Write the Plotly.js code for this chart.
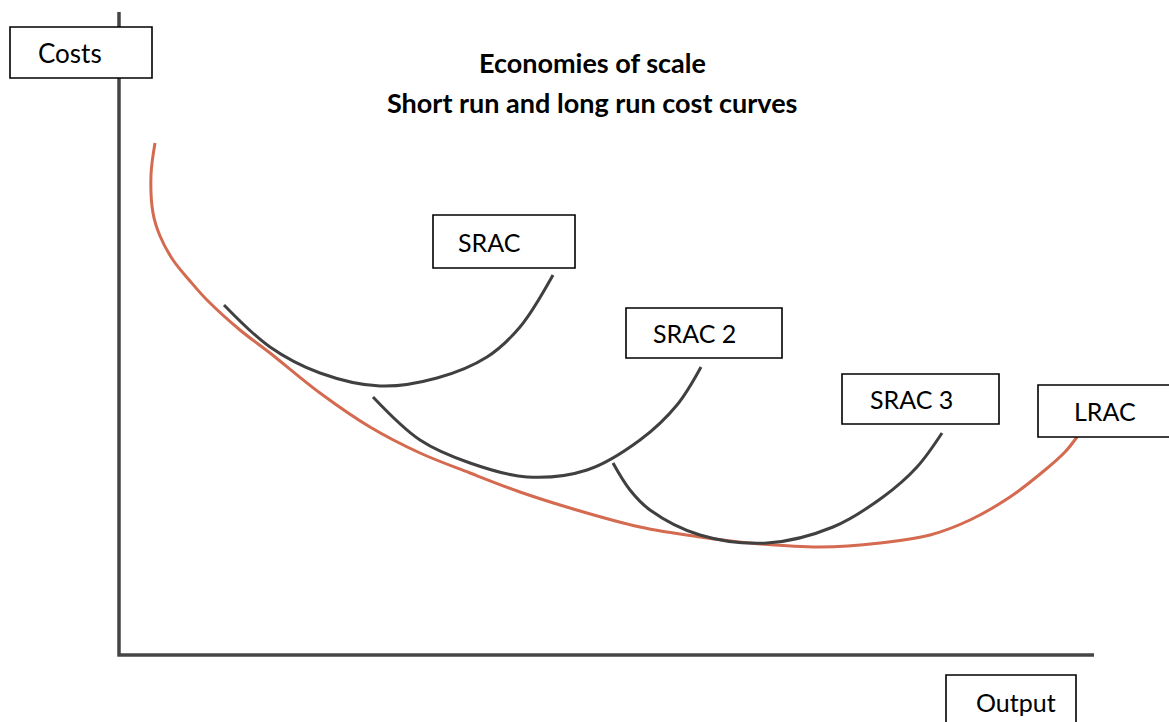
<!DOCTYPE html>
<html>
<head>
<meta charset="utf-8">
<script src="https://cdn.plot.ly/plotly-3.0.1.min.js"></script>
<style>html,body{margin:0;padding:0;background:#fff;}#chart{width:1169px;height:722px;}</style>
</head>
<body>
<div id="chart"></div>
<script>
// Curves (output on x, cost on y, in picture units; y grows downwards)
const lracX = [155, 151, 153, 160, 173, 190, 207, 240, 270, 320, 370, 420, 470, 520, 570, 640, 700, 750, 820, 880, 930, 970, 1010, 1045, 1065, 1077];
const lracY = [143, 175, 213, 236, 260, 281, 300, 330, 353, 393, 427, 453, 473, 492, 508, 527, 537, 543, 547, 543, 535, 520, 497, 470, 452, 437];

const srac1X = [224, 270, 320, 380, 437, 487, 520, 553];
const srac1Y = [305, 347, 373, 386, 378, 357, 327, 275];

const srac2X = [373, 420, 470, 527, 587, 640, 677, 701];
const srac2Y = [397, 440, 463, 477, 470, 440, 405, 367];

const srac3X = [613, 630, 650, 700, 767, 833, 883, 917, 942];
const srac3Y = [463, 490, 510, 535, 543, 527, 497, 467, 433];

const axisX = [119, 119, 1094];
const axisY = [12, 655, 655];

const titleLines = ["Economies of scale", "Short run and long run cost curves"];
const labels = ["Costs", "SRAC", "SRAC 2", "SRAC 3", "LRAC", "Output"];

const FONT = "Lato, 'Open Sans', sans-serif";

function curve(x, y, color, name) {
  return {x: x, y: y, mode: "lines", name: name,
    line: {color: color, width: 3, shape: "spline", smoothing: 1, simplify: false}};
}

const traces = [
  {x: axisX, y: axisY, mode: "lines", line: {color: "#454545", width: 3.5}, hoverinfo: "skip"},
  curve(lracX, lracY, "#D46A4F", "LRAC"),
  curve(srac1X, srac1Y, "#404040", "SRAC"),
  curve(srac2X, srac2Y, "#404040", "SRAC 2"),
  curve(srac3X, srac3Y, "#404040", "SRAC 3")
];

// label boxes: [x0, y0, x1, y1, textX]
const boxes = [
  [10, 27, 152, 78, 36],
  [433, 215, 575, 268, 456],
  [626, 308, 782, 358, 651],
  [842, 374, 999, 424, 868],
  [1038, 385, 1172, 437, 1072],
  [946, 675, 1076, 726, 974]
];

const shapes = boxes.map(b => ({
  type: "rect", xref: "x", yref: "y", x0: b[0], y0: b[1], x1: b[2], y1: b[3],
  line: {color: "#000", width: 1.6}, fillcolor: "#fff", layer: "above"
}));

const annotations = boxes.map((b, i) => ({
  x: b[4], y: (b[1] + Math.min(b[3], 722)) / 2 + (i === 5 ? 3 : 0), xref: "x", yref: "y",
  text: labels[i], showarrow: false, xanchor: "left", yanchor: "middle",
  font: {family: FONT, size: i === 0 ? 26 : 25, color: "#000"}
}));
titleLines.forEach((t, i) => annotations.push({
  x: 592, y: 62 + i * 40, xref: "x", yref: "y", text: "<b>" + t + "</b>", showarrow: false,
  xanchor: "center", yanchor: "middle", font: {family: FONT, size: 27, color: "#000"}
}));

const layout = {
  width: 1169, height: 722,
  margin: {l: 0, r: 0, t: 0, b: 0},
  paper_bgcolor: "#fff", plot_bgcolor: "#fff",
  showlegend: false,
  xaxis: {range: [0, 1169], visible: false, fixedrange: true},
  yaxis: {range: [722, 0], visible: false, fixedrange: true},
  shapes: shapes,
  annotations: annotations
};

Plotly.newPlot("chart", traces, layout, {displayModeBar: false, staticPlot: true});
</script>
</body>
</html>
